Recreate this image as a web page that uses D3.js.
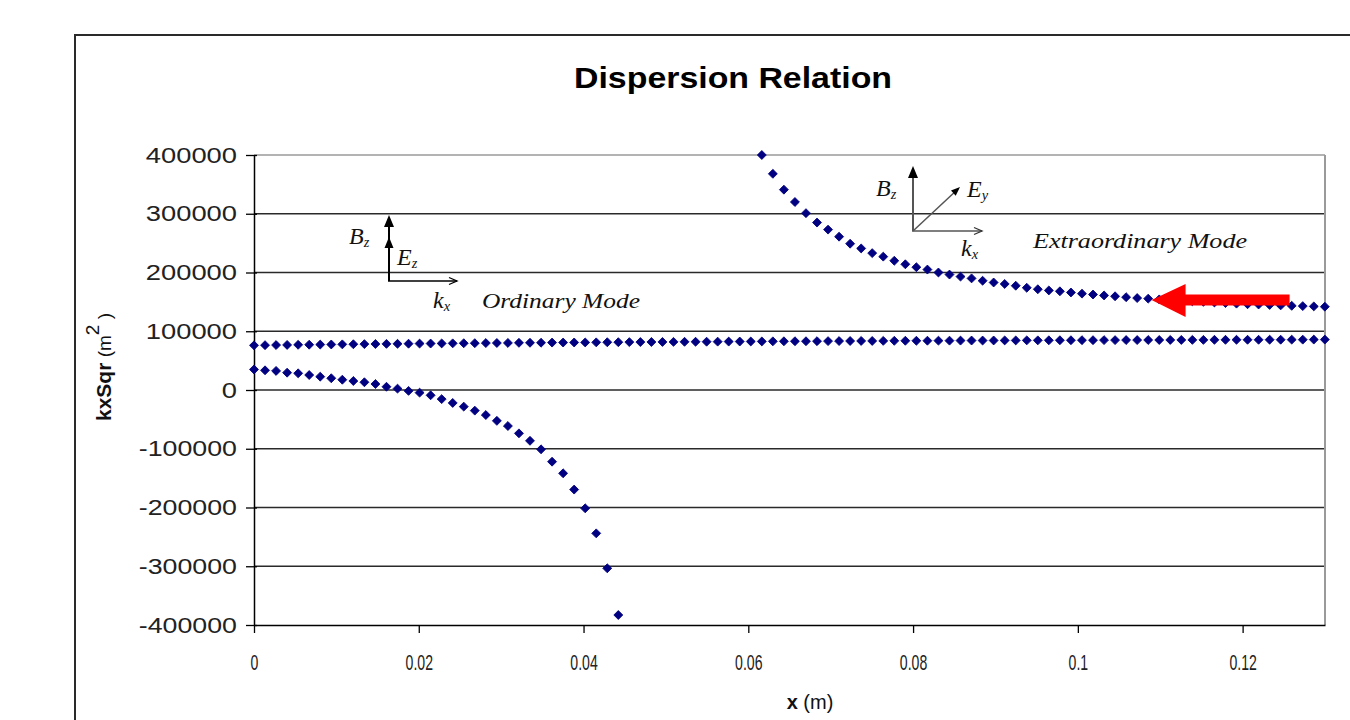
<!DOCTYPE html>
<html><head><meta charset="utf-8">
<script src="https://cdn.jsdelivr.net/npm/d3@7"></script>
<style>body{margin:0;background:#fff}svg{display:block}</style>
</head><body><svg id="c" width="1350" height="720"></svg>
<script>
// ---- data ----
const xValues = [0,0.00134,0.00268,0.00402,0.00536,0.0067,0.00804,0.00938,0.01072,0.01206,
0.0134,0.01474,0.01608,0.01742,0.01876,0.0201,0.02144,0.02278,0.02412,0.02546,
0.0268,0.02814,0.02948,0.03082,0.03216,0.0335,0.03484,0.03618,0.03752,0.03886,
0.0402,0.04154,0.04288,0.04422,0.04556,0.0469,0.04824,0.04958,0.05092,0.05226,
0.0536,0.05494,0.05628,0.05762,0.05896,0.0603,0.06164,0.06298,0.06432,0.06566,
0.067,0.06834,0.06968,0.07102,0.07236,0.0737,0.07504,0.07638,0.07772,0.07906,
0.0804,0.08174,0.08308,0.08442,0.08576,0.0871,0.08844,0.08978,0.09112,0.09246,
0.0938,0.09514,0.09648,0.09782,0.09916,0.1005,0.10184,0.10318,0.10452,0.10586,
0.1072,0.10854,0.10988,0.11122,0.11256,0.1139,0.11524,0.11658,0.11792,0.11926,
0.1206,0.12194,0.12328,0.12462,0.12596,0.1273,0.12864,0.12998];

const flatValues = [76000,76300,76500,76700,76900,77100,77300,77500,77700,77900,
78100,78300,78500,78600,78800,79000,79100,79300,79400,79600,
79700,79900,80000,80100,80300,80400,80500,80700,80800,80900,
81000,81100,81300,81400,81500,81600,81700,81800,81900,82000,
82100,82200,82300,82400,82500,82600,82700,82800,82900,83000,
83000,83100,83200,83300,83400,83500,83500,83600,83700,83800,
83800,83900,84000,84000,84100,84200,84200,84300,84400,84400,
84500,84500,84600,84700,84700,84800,84800,84900,84900,85000,
85000,85100,85100,85200,85200,85300,85300,85400,85400,85500,
85500,85500,85600,85600,85700,85700,85800,85800];

// ordinary mode branch: first 34 x positions
const ordinaryValues = [35000,33500,32500,29500,28400,25500,22700,20000,17500,15300,
13200,10200,5500,2300,-1500,-4500,-9000,-15500,-22000,-28300,
-35100,-42600,-52500,-61300,-73800,-86500,-101000,-122000,-141800,-169500,
-201400,-244000,-303500,-383000];

// extraordinary mode branch: x positions from index 46 onward
const extraStart = 46;
const extraordinaryValues = [400000,368000,341000,320000,301000,285000,273000,261000,249000,241000,
233000,227000,220000,214000,209000,205000,200000,196500,193000,190000,
186000,183000,180500,177500,174000,171500,169500,168000,166000,164000,
162500,161000,159500,158000,156500,155500,154200,153000,152000,151000,
150000,149000,148000,147000,146000,145500,144800,144000,143300,142800,
142300,141800];

const xTicks = [0,0.02,0.04,0.06,0.08,0.1,0.12];
const yTicks = [-400000,-300000,-200000,-100000,0,100000,200000,300000,400000];
const titleText = "Dispersion Relation";

// ---- drawing ----
const svg = d3.select("#c");
const L = 254, R = 1325, T = 155, B = 625;
const x = d3.scaleLinear().domain([0, 0.13]).range([L, R]);
const y = d3.scaleLinear().domain([-400000, 400000]).range([B, T]);

svg.append("rect").attr("width",1350).attr("height",720).attr("fill","#fff");
// outer chart frame
svg.append("path").attr("d","M75,720 L75,35 L1350,35").attr("fill","none")
  .attr("stroke","#2a2a2a").attr("stroke-width",2);

// title
svg.append("text").attr("x",733).attr("y",88).attr("text-anchor","middle")
  .attr("font-family","Liberation Sans, Arial, sans-serif").attr("font-weight","bold")
  .attr("font-size",29).attr("textLength",318).attr("lengthAdjust","spacingAndGlyphs")
  .text(titleText);

// gridlines
svg.append("g").selectAll("line").data(yTicks.filter(d => d > -400000)).join("line")
  .attr("x1",L).attr("x2",R).attr("y1",d=>y(d)).attr("y2",d=>y(d))
  .attr("stroke", d => d === 400000 ? "#9a9a9a" : "#2a2a2a")
  .attr("stroke-width", d => d === 400000 ? 1.6 : 1.6);
// plot right border
svg.append("line").attr("x1",R).attr("x2",R).attr("y1",T).attr("y2",B)
  .attr("stroke","#9a9a9a").attr("stroke-width",2);

// axes
const yAxis = d3.axisLeft(y).tickValues(yTicks).tickFormat(d => String(d))
  .tickSizeInner(8).tickSizeOuter(0).tickPadding(9);
const gy = svg.append("g").attr("transform",`translate(${L},0)`).call(yAxis);
gy.select(".domain").attr("stroke","#000").attr("stroke-width",1.5);
gy.selectAll(".tick line").attr("stroke","#000").attr("stroke-width",1.3).attr("x2",-8).attr("x1",3);
gy.selectAll(".tick text").attr("font-family","Liberation Sans, Arial, sans-serif")
  .attr("font-size",22).attr("fill","#222")
  .attr("textLength", d => (String(Math.abs(d)).length*15.2 + (d<0?7:0)))
  .attr("lengthAdjust","spacingAndGlyphs");

const xAxis = d3.axisBottom(x).tickValues(xTicks).tickFormat(d => String(d))
  .tickSizeInner(8).tickSizeOuter(0).tickPadding(21);
const gx = svg.append("g").attr("transform",`translate(0,${B})`).call(xAxis);
gx.select(".domain").attr("stroke","#000").attr("stroke-width",1.5);
gx.selectAll(".tick line").attr("stroke","#000").attr("stroke-width",1.3);
gx.selectAll(".tick text").attr("font-family","Liberation Sans, Arial, sans-serif")
  .attr("font-size",22).attr("fill","#222")
  .each(function(){ const w = this.getComputedTextLength();
     d3.select(this).attr("textLength", w*0.64).attr("lengthAdjust","spacingAndGlyphs"); });

// axis titles
const xt = svg.append("text").attr("x",810).attr("y",709).attr("text-anchor","middle")
  .attr("font-family","Liberation Sans, Arial, sans-serif").attr("font-size",20).attr("fill","#111");
xt.append("tspan").attr("font-weight","bold").text("x");
xt.append("tspan").text(" (m)");

const yt = svg.append("text").attr("transform","translate(111,421) rotate(-90)")
  .attr("font-family","Liberation Sans, Arial, sans-serif").attr("font-size",21).attr("fill","#111");
yt.append("tspan").attr("font-weight","bold").text("kxSqr");
yt.append("tspan").attr("font-size",19).text(" (m");
yt.append("tspan").attr("font-size",19).attr("dy",-12).text("2");
yt.append("tspan").attr("font-size",19).attr("dy",12).text(" )");

// data points
const sym = d3.symbol().type(d3.symbolSquare).size(40);
const color = "#000080";
function drawSeries(points){
  svg.append("g").selectAll("path").data(points).join("path")
    .attr("d", sym)
    .attr("transform", d => `translate(${x(d[0])},${y(d[1])}) rotate(45)`)
    .attr("fill", color).attr("stroke", color).attr("stroke-width",0.8);
}
drawSeries(xValues.map((xv,i) => [xv, flatValues[i]]));
drawSeries(ordinaryValues.map((v,i) => [xValues[i], v]));
drawSeries(extraordinaryValues.map((v,i) => [xValues[extraStart+i], v]));

// ---- annotations ----
const serif = "Liberation Serif, Times New Roman, serif";
function label(px, py, main, sub, size){
  const t = svg.append("text").attr("x",px).attr("y",py).attr("font-family",serif)
    .attr("font-style","italic").attr("font-size",size).attr("fill","#111");
  t.append("tspan").text(main);
  t.append("tspan").attr("font-size",size*0.6).attr("dy",3).text(sub);
  return t;
}
function filledHead(tx, ty, angle, len, half){
  const bx = tx - len*Math.cos(angle), by = ty - len*Math.sin(angle);
  const nx = -Math.sin(angle)*half, ny = Math.cos(angle)*half;
  svg.append("path").attr("d",`M${tx},${ty} L${bx+nx},${by+ny} L${bx-nx},${by-ny} Z`).attr("fill","#000");
}
function openHead(tx, ty, angle, len, half, col, w){
  const bx = tx - len*Math.cos(angle), by = ty - len*Math.sin(angle);
  const nx = -Math.sin(angle)*half, ny = Math.cos(angle)*half;
  svg.append("path").attr("d",`M${bx+nx},${by+ny} L${tx},${ty} L${bx-nx},${by-ny}`)
    .attr("fill","none").attr("stroke",col).attr("stroke-width",w);
}

// Ordinary mode
svg.append("line").attr("x1",389).attr("y1",281).attr("x2",389).attr("y2",220).attr("stroke","#000").attr("stroke-width",2);
filledHead(389,215,-Math.PI/2,12,5);
filledHead(389,237,-Math.PI/2,11,4.5);
svg.append("line").attr("x1",388).attr("y1",281).attr("x2",457).attr("y2",281).attr("stroke","#000").attr("stroke-width",1.5);
openHead(457,281,0,8,3.5,"#000",1.3);
label(349,244,"B","z",24);
label(397,265,"E","z",24);
label(433,308,"k","x",24);
svg.append("text").attr("x",482).attr("y",308).attr("font-family",serif).attr("font-style","italic")
  .attr("font-size",21).attr("fill","#111").attr("textLength",158).attr("lengthAdjust","spacingAndGlyphs")
  .text("Ordinary Mode");

// Extraordinary mode
svg.append("line").attr("x1",913).attr("y1",231).attr("x2",913).attr("y2",174).attr("stroke","#555").attr("stroke-width",2);
filledHead(913,166,-Math.PI/2,12,5);
svg.append("line").attr("x1",912).attr("y1",231).attr("x2",982).attr("y2",231).attr("stroke","#555").attr("stroke-width",1.5);
openHead(982,231,0,8,3.5,"#333",1.3);
svg.append("line").attr("x1",913).attr("y1",231).attr("x2",958).attr("y2",189).attr("stroke","#555").attr("stroke-width",1.5);
filledHead(960,187,Math.atan2(-43,47),9,3.5);
label(876,196,"B","z",24);
label(967,197,"E","y",24);
label(961,256,"k","x",24);
svg.append("text").attr("x",1033).attr("y",248).attr("font-family",serif).attr("font-style","italic")
  .attr("font-size",21).attr("fill","#111").attr("textLength",214).attr("lengthAdjust","spacingAndGlyphs")
  .text("Extraordinary Mode");

// red block arrow pointing at the extraordinary branch
const tipX = x(0.10895), tipY = y(153000);
svg.append("path")
  .attr("d",`M${tipX},${tipY} L${tipX+34},${tipY-16} L${tipX+34},${tipY-5.5} L${tipX+138},${tipY-5.5} L${tipX+138},${tipY+5.5} L${tipX+34},${tipY+5.5} L${tipX+34},${tipY+17} Z`)
  .attr("fill","#ff0000");
</script></body></html>
